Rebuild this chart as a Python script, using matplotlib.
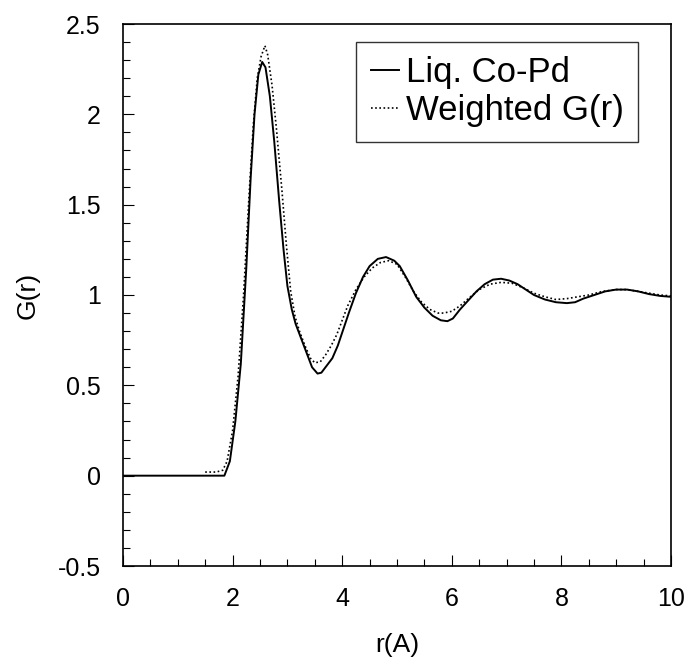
import numpy as np
import matplotlib.pyplot as plt
from matplotlib.ticker import MultipleLocator

plt.rcParams['font.family'] = ['Liberation Sans', 'DejaVu Sans']

# Liq. Co-Pd (solid)
r_liq = [0.0, 1.0, 1.85, 1.95, 2.05, 2.15, 2.25, 2.33, 2.40, 2.47, 2.54, 2.60,
         2.68, 2.76, 2.85, 2.93, 3.00, 3.08, 3.15, 3.25, 3.35, 3.45, 3.55, 3.62,
         3.72, 3.82, 3.92, 4.02, 4.12, 4.25, 4.38, 4.50, 4.65, 4.80, 4.95, 5.05,
         5.20, 5.35, 5.50, 5.65, 5.80, 5.92, 6.02, 6.15, 6.30, 6.45, 6.60, 6.75,
         6.90, 7.05, 7.20, 7.35, 7.50, 7.70, 7.90, 8.10, 8.25, 8.40, 8.60, 8.80,
         9.00, 9.20, 9.40, 9.60, 9.80, 10.0]
g_liq = [0.0, 0.0, 0.0, 0.08, 0.30, 0.62, 1.15, 1.65, 2.00, 2.22, 2.29, 2.26,
         2.10, 1.85, 1.52, 1.25, 1.05, 0.92, 0.84, 0.76, 0.68, 0.60, 0.565, 0.57,
         0.61, 0.65, 0.72, 0.81, 0.90, 1.01, 1.10, 1.16, 1.20, 1.21, 1.19, 1.16,
         1.08, 0.99, 0.93, 0.885, 0.86, 0.855, 0.87, 0.92, 0.97, 1.02, 1.06, 1.085,
         1.09, 1.08, 1.06, 1.03, 1.00, 0.975, 0.96, 0.955, 0.96, 0.98, 1.00, 1.02,
         1.03, 1.03, 1.02, 1.005, 0.995, 0.99]

# Weighted G(r) (dotted)
r_wt = [1.5, 1.7, 1.82, 1.9, 2.0, 2.1, 2.2, 2.3, 2.38, 2.45, 2.52, 2.59, 2.64,
        2.72, 2.80, 2.90, 2.98, 3.06, 3.14, 3.22, 3.32, 3.42, 3.50, 3.60, 3.70,
        3.80, 3.90, 4.00, 4.10, 4.25, 4.40, 4.55, 4.70, 4.85, 5.00, 5.15, 5.30,
        5.45, 5.60, 5.75, 5.85, 6.00, 6.15, 6.30, 6.50, 6.70, 6.90, 7.10, 7.30,
        7.50, 7.70, 7.90, 8.10, 8.30, 8.50, 8.75, 9.00, 9.20, 9.40, 9.60, 9.80, 10.0]
g_wt = [0.02, 0.02, 0.03, 0.08, 0.25, 0.55, 1.00, 1.55, 1.95, 2.20, 2.32, 2.38, 2.33,
        2.16, 1.92, 1.58, 1.28, 1.02, 0.88, 0.80, 0.72, 0.65, 0.625, 0.63, 0.67,
        0.72, 0.78, 0.86, 0.94, 1.03, 1.10, 1.15, 1.18, 1.19, 1.17, 1.10, 1.02,
        0.96, 0.92, 0.90, 0.90, 0.91, 0.94, 0.98, 1.03, 1.06, 1.07, 1.065, 1.04,
        1.01, 0.99, 0.975, 0.98, 0.99, 1.00, 1.02, 1.03, 1.03, 1.02, 1.01, 1.00, 0.995]

fig = plt.figure(figsize=(6.87, 6.57), dpi=100)
# axes box: x 123..671 px, y 24..566 px
ax = fig.add_axes([123 / 687, (657 - 566) / 657, 548 / 687, 542 / 657])

ax.plot(r_liq, g_liq, color='black', lw=1.4, label='Liq. Co-Pd')
ax.plot(r_wt, g_wt, color='black', lw=1.2, linestyle=(0, (1, 1.5)), label='Weighted G(r)')

ax.set_xlim(0, 10)
ax.set_ylim(-0.5, 2.5)
ax.xaxis.set_major_locator(MultipleLocator(2))
ax.xaxis.set_minor_locator(MultipleLocator(0.5))
ax.yaxis.set_major_locator(MultipleLocator(0.5))
ax.yaxis.set_minor_locator(MultipleLocator(0.1))
ax.xaxis.set_major_formatter(plt.FuncFormatter(lambda v, p: f"{v:g}"))
ax.yaxis.set_major_formatter(plt.FuncFormatter(lambda v, p: f"{v:g}"))
ax.tick_params(which='both', direction='in', labelsize=18, width=0.8)
ax.tick_params(which='major', length=8)
ax.tick_params(axis='x', which='major', pad=15)
ax.tick_params(axis='y', which='major', pad=16)
ax.tick_params(which='minor', length=5)

for s in ax.spines.values():
    s.set_linewidth(1.2)

ax.set_xlabel('r(A)', fontsize=19, labelpad=16)
ax.set_ylabel('G(r)', fontsize=19, labelpad=13)

leg = ax.legend(loc='upper right', bbox_to_anchor=(0.94, 0.967), fontsize=25,
                frameon=True, fancybox=False, edgecolor='black', handlelength=0.8,
                handletextpad=0.2, borderpad=0.42, labelspacing=0.14, borderaxespad=0)
leg.get_frame().set_linewidth(1.0)

fig.savefig('out.png', dpi=100)
